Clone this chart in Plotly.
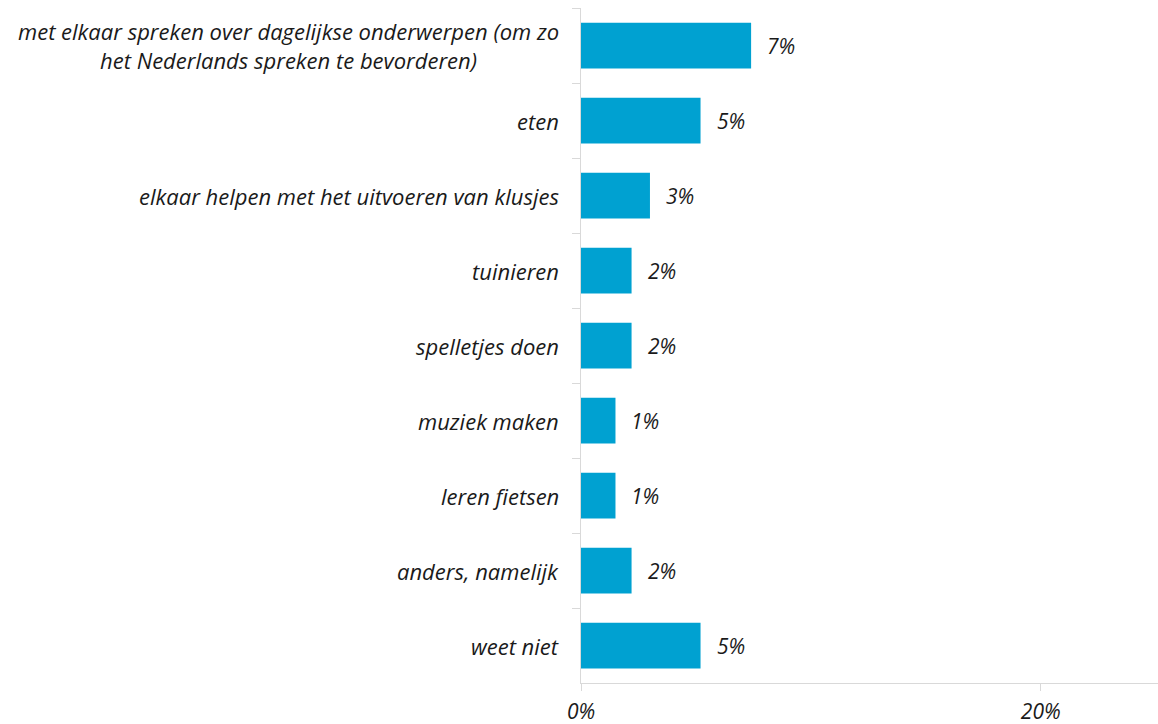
import plotly.graph_objects as go

categories = [
    "met elkaar spreken over dagelijkse onderwerpen (om zo<br>het Nederlands spreken te bevorderen)",
    "eten",
    "elkaar helpen met het uitvoeren van klusjes",
    "tuinieren",
    "spelletjes doen",
    "muziek maken",
    "leren fietsen",
    "anders, namelijk",
    "weet niet",
]
values = [7.4, 5.2, 3.0, 2.2, 2.2, 1.5, 1.5, 2.2, 5.2]
value_labels = ["7%", "5%", "3%", "2%", "2%", "1%", "1%", "2%", "5%"]
x_ticks = [0, 20]
x_tick_labels = ["0%", "20%"]

FONT = "Open Sans"
TXT = "#1a1a1a"
fig = go.Figure()
fig.add_trace(go.Bar(
    y=categories, x=values, orientation="h",
    marker=dict(color="#00A1D1", line=dict(width=0)),
    hoverinfo="skip",
))

annotations = []
for c, v, t in zip(categories, values, value_labels):
    annotations.append(dict(x=v, y=c, xref="x", yref="y", text="<i>%s</i>" % t,
                            showarrow=False, xanchor="left", xshift=14,
                            font=dict(family=FONT, size=21, color=TXT)))
    annotations.append(dict(x=0, y=c, xref="paper", yref="y", text="<i>%s</i>" % c,
                            showarrow=False, xanchor="right", xshift=-20, align="center",
                            font=dict(family=FONT, size=22, color=TXT)))

fig.update_layout(
    width=1158, height=724,
    margin=dict(l=581, r=0, t=8, b=41),
    plot_bgcolor="white", paper_bgcolor="white",
    bargap=0.39,
    showlegend=False,
    annotations=annotations,
    xaxis=dict(range=[0, 25.1], tickvals=x_ticks, ticktext=["<i>%s</i>" % s for s in x_tick_labels],
               showgrid=False, zeroline=False, showline=True, linecolor="#d9d9d9", linewidth=1,
               ticks="outside", ticklen=7, tickcolor="#d9d9d9", ticklabelstandoff=3,
               automargin=False,
               tickfont=dict(family=FONT, size=21, color=TXT)),
    yaxis=dict(autorange="reversed", showticklabels=False, showgrid=False, zeroline=False,
               showline=True, linecolor="#d9d9d9", linewidth=1, automargin=False,
               ticks="outside", tickson="boundaries", ticklen=8, tickcolor="#d9d9d9"),
)
fig.write_html("out.html", config={"displayModeBar": False},
               post_script="document.body.style.margin='0';document.body.style.overflow='hidden';")
